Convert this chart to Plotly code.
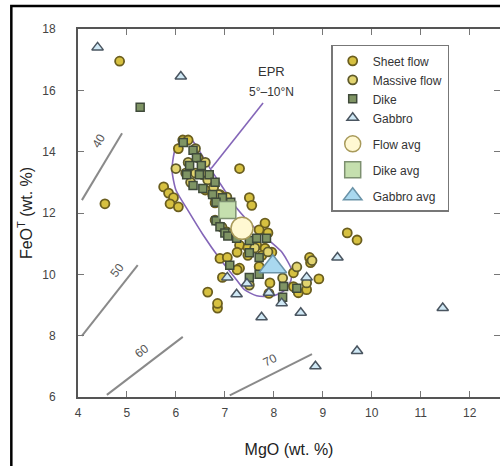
import plotly.graph_objects as go

# ---- data ----
sheet_mgo = [4.85, 4.55, 7.3, 5.75, 5.85, 5.95, 5.88, 6.05, 6.65, 6.85, 9.5, 9.7, 8.73, 8.75, 8.92, 8.4,
             6.14, 6.25, 6.05, 6.6, 6.75, 6.9, 6.8, 7.5, 7.55, 7.82, 7.7, 7.88, 7.3, 7.47, 7.65, 7.82,
             7.25, 7.47, 7.76, 7.96, 6.9, 7.3, 7.7, 8.4, 8.5, 8.67, 7.92, 7.9, 6.85, 7.05, 7.25, 6.95]
sheet_feo = [16.95, 12.3, 13.45, 12.85, 12.65, 12.5, 12.3, 12.2, 9.42, 8.9, 11.35, 11.12, 10.55, 10.38, 9.85, 10.05,
             14.38, 14.38, 14.1, 12.75, 12.6, 12.6, 12.33, 12.5, 12.25, 11.67, 11.45, 11.35, 10.95, 10.88, 10.95, 10.85,
             10.72, 10.62, 10.62, 10.72, 10.52, 10.2, 10.25, 9.6, 9.4, 9.5, 9.72, 9.38, 9.05, 10.55, 10.15, 9.9]

massive_mgo = [6.4, 6.0, 6.25, 6.45, 6.6, 6.2, 6.4, 6.55, 6.3, 6.65, 6.77, 6.87, 7.04, 6.8, 6.94, 7.04,
               8.18, 8.47, 8.78, 8.67, 7.5, 7.61, 7.88]
massive_feo = [14.1, 13.45, 13.65, 13.8, 13.65, 13.3, 13.3, 13.25, 13.0, 13.08, 12.82, 12.6, 12.52, 11.77, 11.54, 11.38,
               9.88, 10.24, 10.45, 9.72, 9.65, 10.86, 10.73]

dike_mgo = [5.27, 6.15, 6.35, 6.42, 6.28, 6.52, 6.22, 6.48, 6.68, 6.8, 6.35, 6.55, 6.75, 6.95, 6.82, 7.12,
            6.82, 6.9, 7.0, 7.06, 7.24, 7.5, 7.65, 7.85, 7.5, 7.7, 7.5, 7.7, 8.18, 8.47, 7.1, 8.2]
dike_feo = [15.45, 14.3, 14.05, 13.8, 13.55, 13.55, 13.25, 13.25, 13.25, 13.0, 12.9, 12.8, 12.6, 12.5, 12.35, 12.35,
            11.75, 11.55, 11.35, 11.25, 11.18, 11.1, 11.18, 11.18, 10.7, 10.55, 9.9, 10.0, 9.25, 9.55, 10.3, 9.6]

gabbro_mgo = [4.4, 6.1, 9.3, 11.45, 9.7, 8.85, 8.55, 7.75, 8.16, 8.67, 7.24, 7.05, 7.45, 7.9, 8.05]
gabbro_feo = [17.4, 16.45, 10.55, 8.9, 7.5, 7.0, 8.75, 8.6, 9.06, 9.9, 9.35, 9.9, 9.7, 9.4, 10.2]

flow_avg = (7.35, 11.5)
dike_avg = (7.05, 12.1)
gabbro_avg = (7.98, 10.25)

# EPR 5-10N field outline
epr_mgo = [6.14, 5.98, 5.92, 6.0, 6.24, 6.55, 6.9, 7.2, 7.4, 7.65, 7.95, 8.2, 8.35, 8.35,
           8.15, 7.65, 7.24, 6.95, 6.69, 6.45, 6.3, 6.14]
epr_feo = [14.44, 14.05, 13.4, 12.75, 12.1, 11.3, 10.5, 9.9, 9.5, 9.3, 9.28, 9.45, 9.8, 10.2,
           10.75, 11.45, 12.16, 12.85, 13.47, 14.1, 14.42, 14.44]
epr_tail_mgo = [6.72, 7.78]
epr_tail_feo = [13.45, 15.59]

# Mg# reference lines
mgnum_labels = ["40", "50", "60", "70"]
mgnum_mgo = [[4.08, 4.9], [4.08, 5.22], [4.59, 6.14], [7.1, 8.78]]
mgnum_feo = [[12.42, 14.6], [7.99, 10.3], [6.07, 7.96], [6.05, 7.4]]
mgnum_label_pos = [(4.42, 14.35), (4.8, 10.15), (5.3, 7.5), (7.92, 7.22)]
mgnum_label_angle = [-59, -52, -37, -27]

x_ticks = [4, 5, 6, 7, 8, 9, 10, 11, 12]
y_ticks = [6, 8, 10, 12, 14, 16, 18]

fig = go.Figure()

# Mg# lines
for xs, ys in zip(mgnum_mgo, mgnum_feo):
    fig.add_trace(go.Scatter(x=xs, y=ys, mode="lines", line=dict(color="#8a8a8a", width=2),
                             showlegend=False, hoverinfo="skip"))

# EPR field
fig.add_trace(go.Scatter(x=epr_mgo, y=epr_feo, mode="lines",
                         line=dict(color="#8466b8", width=1.6, shape="spline", smoothing=0.6),
                         showlegend=False, hoverinfo="skip"))
fig.add_trace(go.Scatter(x=epr_tail_mgo, y=epr_tail_feo, mode="lines",
                         line=dict(color="#8466b8", width=1.6), showlegend=False, hoverinfo="skip"))

fig.add_trace(go.Scatter(x=sheet_mgo, y=sheet_feo, mode="markers", name="Sheet flow", legendgroup="a",
                         marker=dict(symbol="circle", size=9, color="#d6c040",
                                     line=dict(color="#6b5e1e", width=1.8))))
fig.add_trace(go.Scatter(x=massive_mgo, y=massive_feo, mode="markers", name="Massive flow", legendgroup="a",
                         marker=dict(symbol="circle", size=9, color="#e2d470",
                                     line=dict(color="#5f5a2a", width=1.8))))
fig.add_trace(go.Scatter(x=dike_mgo, y=dike_feo, mode="markers", name="Dike", legendgroup="a",
                         marker=dict(symbol="square", size=8, color="#7f9464",
                                     line=dict(color="#3f4a3a", width=1.5))))
fig.add_trace(go.Scatter(x=gabbro_mgo, y=gabbro_feo, mode="markers", name="Gabbro", legendgroup="a",
                         marker=dict(symbol="triangle-up", size=10, color="#cfe8f5",
                                     line=dict(color="#4a5560", width=1.5))))

fig.add_trace(go.Scatter(x=[flow_avg[0]], y=[flow_avg[1]], mode="markers", name="Flow avg", legendgroup="b",
                         marker=dict(symbol="circle", size=22, color="#fff8d2",
                                     line=dict(color="#a89a5a", width=1.5))))
fig.add_trace(go.Scatter(x=[dike_avg[0]], y=[dike_avg[1]], mode="markers", name="Dike avg", legendgroup="c",
                         marker=dict(symbol="square", size=17, color="#c5dfae",
                                     line=dict(color="#7d9070", width=1.5))))
fig.add_trace(go.Scatter(x=[gabbro_avg[0]], y=[gabbro_avg[1]], mode="markers", name="Gabbro avg", legendgroup="d",
                         marker=dict(symbol="triangle-up", size=24, color="#a9d8ef",
                                     line=dict(color="#6a93a8", width=1.5))))

annotations = []
for lab, (lx, ly), ang in zip(mgnum_labels, mgnum_label_pos, mgnum_label_angle):
    annotations.append(dict(x=lx, y=ly, text=lab, showarrow=False, textangle=ang,
                            font=dict(size=12, color="#555", family="Liberation Sans")))
annotations.append(dict(x=7.96, y=16.6, text="EPR", showarrow=False,
                        font=dict(size=13, color="#333", family="Liberation Sans")))
annotations.append(dict(x=7.96, y=15.95, text="5°–10°N", showarrow=False,
                        font=dict(size=12, color="#333", family="Liberation Sans")))

fig.update_layout(
    width=500, height=466,
    margin=dict(l=78, r=0, t=29, b=69),
    paper_bgcolor="white", plot_bgcolor="white",
    font=dict(family="Liberation Sans", color="#333"),
    annotations=annotations,
    legend=dict(x=0.6, y=0.957, xanchor="left", yanchor="top",
                bgcolor="white", bordercolor="#777", borderwidth=1.5,
                font=dict(size=12, color="#333"), tracegroupgap=7, itemsizing="trace"),
    shapes=[dict(type="rect", xref="paper", yref="paper", x0=-0.158, x1=1.3, y0=-0.4, y1=1.0625,
                 line=dict(color="black", width=2.5), layer="below")],
)
fig.update_xaxes(range=[4, 12.62], tickvals=x_ticks, ticks="inside", ticklen=6, tickcolor="#777",
                 showline=True, linecolor="#555", linewidth=2, mirror="ticks", showgrid=False, zeroline=False,
                 tickfont=dict(size=12, color="#444"), ticklabelstandoff=4, automargin=False,
                 title=dict(text="MgO (wt. %)", font=dict(size=16, color="#222"), standoff=24))
fig.update_yaxes(range=[6, 18], tickvals=y_ticks, ticks="inside", ticklen=6, tickcolor="#777",
                 showline=True, linecolor="#555", linewidth=2, mirror="ticks", showgrid=False, zeroline=False,
                 tickfont=dict(size=12, color="#444"), ticklabelstandoff=18, automargin=False,
                 title=dict(text="FeO<sup>T</sup> (wt. %)", font=dict(size=16, color="#222"), standoff=6))

fig.write_html("out.html", config={"displayModeBar": False},
               post_script="document.body.style.margin='0';")
